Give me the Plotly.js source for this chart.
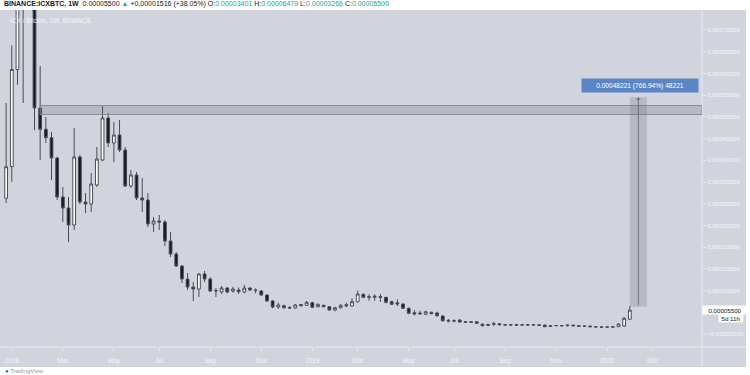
<!DOCTYPE html>
<html>
<head>
<meta charset="utf-8">
<script src="https://cdn.plot.ly/plotly-3.0.1.min.js"></script>
<style>html,body{margin:0;padding:0;background:#fff;}#chart{width:750px;height:375px;}</style>
</head>
<body>
<div id="chart"></div>
<script>
// Weekly candles ICX/BTC (Binance), first bar week of 2017-12-25
const firstWeek = '2017-12-25';
const opens = [
0.0003125,0.0003852,0.0006090,0.0007900,0.0008100,0.0007800,0.0005204,0.0004713,0.0004520,0.0004053,
0.0003155,0.0002901,0.0002510,0.0004076,0.0003040,0.0002993,0.0003431,0.0004007,0.0004974,0.0004398,
0.0004582,0.0004237,0.0003408,0.0003661,0.0003132,0.0003085,0.0002533,0.0002602,0.0002579,0.0002141,
0.0001842,0.0001566,0.0001266,0.0001082,0.0001036,0.0001382,0.0001266,0.0000990,0.0000967,0.0001059,
0.0000990,0.0001013,0.0000967,0.0001059,0.0001013,0.0000990,0.0000898,0.0000760,0.0000622,0.0000652,
0.0000610,0.0000599,0.0000679,0.0000661,
0.0000721,0.0000629,0.0000661,0.0000629,0.0000553,0.0000606,0.0000645,0.0000645,0.0000744,0.0000914,
0.0000859,0.0000845,0.0000859,0.0000845,0.0000744,0.0000721,0.0000691,0.0000592,0.0000491,0.0000484,
0.0000454,0.0000500,0.0000484,0.0000414,0.0000315,0.0000306,0.0000322,0.0000283,0.0000283,0.0000283,
0.0000226,0.0000219,0.0000223,0.0000237,0.0000214,0.0000207,0.0000214,0.0000205,0.0000214,0.0000207,
0.0000210,0.0000207,0.0000172,0.0000189,0.0000196,0.0000191,0.0000205,0.0000189,0.0000179,0.0000184,
0.0000168,0.0000163,0.0000157,0.0000166,0.0000168,0.0000184,0.00003401];
const highs = [
0.0005319,0.0006643,0.0008600,0.0008900,0.0008800,0.0008200,0.0006171,0.0004997,0.0004651,0.0004080,
0.0003385,0.0003155,0.0004743,0.0004122,0.0003247,0.0003707,0.0004306,0.0005250,0.0005089,0.0004882,
0.0004928,0.0004306,0.0003776,0.0003730,0.0003592,0.0003247,0.0002694,0.0002740,0.0002625,0.0002349,
0.0001888,0.0001589,0.0001405,0.0001197,0.0001405,0.0001451,0.0001312,0.0001059,0.0001105,0.0001082,
0.0001089,0.0001075,0.0001128,0.0001075,0.0001052,0.0001013,0.0000921,0.0000783,0.0000721,0.0000675,
0.0000645,0.0000691,0.0000691,0.0000760,
0.0000744,0.0000707,0.0000675,0.0000645,0.0000629,0.0000684,0.0000721,0.0000822,0.0000997,0.0000937,
0.0000914,0.0000914,0.0000921,0.0000859,0.0000767,0.0000799,0.0000707,0.0000615,0.0000553,0.0000537,
0.0000537,0.0000513,0.0000513,0.0000437,0.0000345,0.0000338,0.0000345,0.0000299,0.0000292,0.0000292,
0.0000246,0.0000237,0.0000283,0.0000253,0.0000230,0.0000228,0.0000221,0.0000220,0.0000220,0.0000221,
0.0000216,0.0000212,0.0000196,0.0000203,0.0000203,0.0000221,0.0000209,0.0000193,0.0000191,0.0000189,
0.0000175,0.0000168,0.0000166,0.0000170,0.0000246,0.0000385,0.00006479];
const lows = [
0.0003016,0.0003507,0.0005740,0.0005319,0.0007600,0.0004697,0.0004007,0.0004398,0.0003546,0.0003085,
0.0002579,0.0002118,0.0002395,0.0002993,0.0002786,0.0002809,0.0003385,0.0003980,0.0004306,0.0003960,
0.0004191,0.0003385,0.0003362,0.0003085,0.0002809,0.0002464,0.0002349,0.0002395,0.0002026,0.0001773,
0.0001543,0.0001174,0.0001013,0.0000760,0.0000852,0.0001197,0.0000967,0.0000852,0.0000921,0.0000937,
0.0000951,0.0000921,0.0000937,0.0000997,0.0000937,0.0000875,0.0000737,0.0000592,0.0000583,0.0000583,
0.0000576,0.0000583,0.0000629,0.0000645,
0.0000599,0.0000615,0.0000615,0.0000537,0.0000523,0.0000592,0.0000615,0.0000629,0.0000721,0.0000822,
0.0000767,0.0000767,0.0000737,0.0000707,0.0000668,0.0000645,0.0000576,0.0000454,0.0000431,0.0000437,
0.0000437,0.0000454,0.0000398,0.0000283,0.0000269,0.0000269,0.0000260,0.0000253,0.0000253,0.0000237,
0.0000177,0.0000184,0.0000184,0.0000200,0.0000196,0.0000196,0.0000198,0.0000198,0.0000198,0.0000198,
0.0000196,0.0000161,0.0000168,0.0000182,0.0000182,0.0000173,0.0000182,0.0000175,0.0000175,0.0000163,
0.0000159,0.0000152,0.0000152,0.0000156,0.0000161,0.0000168,0.00003266];
const closes = [
0.0003852,0.0006090,0.0007900,0.0008100,0.0007800,0.0005204,0.0004713,0.0004520,0.0004053,0.0003155,
0.0002901,0.0002510,0.0004076,0.0003040,0.0002993,0.0003454,0.0004030,0.0004974,0.0004398,0.0004582,
0.0004237,0.0003408,0.0003661,0.0003132,0.0003085,0.0002533,0.0002602,0.0002579,0.0002141,0.0001842,
0.0001566,0.0001266,0.0001082,0.0001036,0.0001382,0.0001266,0.0000990,0.0001002,0.0001059,0.0000967,
0.0001036,0.0000974,0.0001059,0.0001013,0.0001002,0.0000898,0.0000760,0.0000622,0.0000668,0.0000606,
0.0000599,0.0000668,0.0000656,0.0000730,
0.0000615,0.0000684,0.0000629,0.0000553,0.0000606,0.0000661,0.0000675,0.0000744,0.0000921,0.0000845,
0.0000845,0.0000868,0.0000845,0.0000730,0.0000684,0.0000691,0.0000592,0.0000477,0.0000461,0.0000468,
0.0000513,0.0000468,0.0000421,0.0000306,0.0000299,0.0000299,0.0000276,0.0000269,0.0000269,0.0000246,
0.0000191,0.0000200,0.0000242,0.0000214,0.0000207,0.0000214,0.0000205,0.0000214,0.0000207,0.0000212,
0.0000202,0.0000168,0.0000189,0.0000196,0.0000189,0.0000205,0.0000189,0.0000179,0.0000184,0.0000168,
0.0000163,0.0000157,0.0000161,0.0000161,0.0000230,0.0000362,0.00005500];

// Axis ticks
const xTickVals = ['2018-01-01','2018-03-05','2018-05-07','2018-07-02','2018-09-03','2018-11-05',
  '2019-01-07','2019-03-04','2019-05-06','2019-07-01','2019-09-02','2019-11-04','2020-01-06','2020-03-02'];
const xTickText = ['2018','Mar','May','Jul','Sep','Nov','2019','Mar','May','Jul','Sep','Nov','2020','Mar'];
const yTickVals = [0,0.0001,0.00015,0.0002,0.00025,0.0003,0.00035,0.0004,0.00045,0.0005,0.00055,0.0006,0.00065,0.0007];
const yTickText = ['\u22120.00000000','0.00010000','0.00015000','0.00020000','0.00025000','0.00030000','0.00035000',
  '0.00040000','0.00045000','0.00050000','0.00055000','0.00060000','0.00065000','0.00070000'];

// Drawings
const zoneLow = 0.0005054, zoneHigh = 0.0005261, zoneStart = '2018-02-05';
const rangeFrom = 0.00006287, rangeDelta = 0.00048221, rangePct = '766.94%';
const rangeStart = '2020-02-03', rangeEnd = '2020-02-24', rangeMid = '2020-02-13 12:00';
const lastPrice = 0.000055;

const xRange = ['2017-12-17 10:00','2020-05-02 02:00'];
const yRange = [-0.0000299, 0.000746];

const dates = opens.map((_, i) => {
  const d = new Date(Date.parse(firstWeek + 'T00:00:00Z') + i * 7 * 86400000);
  return d.toISOString().slice(0, 10);
});

const FONT = 'Liberation Sans, Arial, sans-serif';
const AXC = '#f3f4f6';
const pw = 702, ph = 337;

const trace = {
  type: 'candlestick', x: dates, open: opens, high: highs, low: lows, close: closes,
  increasing: {line: {color: '#4a4d55', width: 1}, fillcolor: '#ffffff'},
  decreasing: {line: {color: '#4a4d55', width: 1}, fillcolor: '#131722'},
  whiskerwidth: 0, hoverinfo: 'skip', showlegend: false
};

const teal = '#26a69a';
const header = '<b>BINANCE:ICXBTC, 1W</b>  0.00005500 <span style="color:' + teal + '">\u25B2</span> +0.00001516 (+38.05%) ' +
  'O:<span style="color:' + teal + '">0.00003401</span> H:<span style="color:' + teal + '">0.00006479</span> ' +
  'L:<span style="color:' + teal + '">0.00003266</span> C:<span style="color:' + teal + '">0.00005500</span>';

const layout = {
  width: 750, height: 375,
  margin: {l: 0, r: 48, t: 10, b: 28, pad: 0},
  paper_bgcolor: '#ffffff', plot_bgcolor: '#d1d4dc',
  font: {family: FONT, color: AXC},
  showlegend: false,
  xaxis: {
    type: 'date', range: xRange, rangeslider: {visible: false},
    tickmode: 'array', tickvals: xTickVals, ticktext: xTickText,
    ticks: 'outside', ticklen: 3, tickcolor: '#e9ebef', tickwidth: 1, ticklabelstandoff: 4,
    tickfont: {size: 6.5, color: AXC, family: FONT},
    showgrid: false, zeroline: false, showline: false, fixedrange: true
  },
  yaxis: {
    side: 'right', range: yRange,
    tickmode: 'array', tickvals: yTickVals, ticktext: yTickText,
    ticks: 'outside', ticklen: 3, tickcolor: '#e9ebef', tickwidth: 1,
    tickfont: {size: 6.2, color: AXC, family: FONT},
    showgrid: false, zeroline: false, showline: false, fixedrange: true
  },
  shapes: [
    {type: 'rect', xref: 'paper', yref: 'paper', x0: 0, x1: 746 / pw, y0: -20 / ph, y1: 1,
      fillcolor: '#d1d4dc', line: {width: 0}, layer: 'below'},
    {type: 'line', xref: 'paper', yref: 'paper', x0: 1, x1: 1, y0: -20 / ph, y1: 1,
      line: {color: '#e8eaee', width: 1}},
    {type: 'line', xref: 'paper', yref: 'paper', x0: 0, x1: 746 / pw, y0: 0, y1: 0,
      line: {color: '#e8eaee', width: 1}},
    {type: 'rect', xref: 'x', yref: 'y', x0: zoneStart, x1: xRange[1], y0: zoneLow, y1: zoneHigh,
      fillcolor: 'rgba(105,108,120,0.25)', line: {color: '#8c8f97', width: 1}},
    {type: 'rect', xref: 'x', yref: 'y', x0: rangeStart, x1: rangeEnd, y0: rangeFrom, y1: rangeFrom + rangeDelta,
      fillcolor: 'rgba(105,108,120,0.25)', line: {width: 0}}
  ],
  annotations: [
    {xref: 'paper', yref: 'paper', x: 2 / pw, y: (347 - 4.5) / ph, xanchor: 'left', yanchor: 'middle',
      text: header, showarrow: false, font: {size: 7, color: '#131722', family: FONT}},
    {xref: 'paper', yref: 'paper', x: 8 / pw, y: (347 - 20.7) / ph, xanchor: 'left', yanchor: 'middle',
      text: 'ICX / Bitcoin, 1W, BINANCE', showarrow: false, font: {size: 6.5, color: 'rgba(255,255,255,0.8)', family: FONT}},
    {xref: 'x', yref: 'y', x: rangeMid, y: rangeFrom + rangeDelta, ax: rangeMid, ay: rangeFrom,
      axref: 'x', ayref: 'y', text: '', showarrow: true, arrowhead: 1, arrowsize: 0.8, arrowwidth: 1,
      arrowcolor: '#70737c'},
    {xref: 'paper', yref: 'paper', x: 640 / pw, y: (347 - 85.8) / ph, xanchor: 'center', yanchor: 'middle',
      width: 116, height: 13, bgcolor: '#5b86c5', borderpad: 0,
      text: (rangeDelta).toFixed(8) + ' (' + rangePct + ') ' + Math.round(rangeDelta * 1e8),
      showarrow: false, font: {size: 6.6, color: '#ffffff', family: FONT}},
    {xref: 'paper', yref: 'y', x: 1, y: lastPrice, xanchor: 'left', yanchor: 'middle',
      width: 44, height: 8, bgcolor: '#ffffff', borderpad: 0, align: 'center',
      text: lastPrice.toFixed(8), showarrow: false, font: {size: 6.2, color: '#131722', family: FONT}},
    {xref: 'paper', yref: 'paper', x: 731 / pw, y: (347 - 318) / ph, xanchor: 'center', yanchor: 'middle',
      width: 24, height: 8, bgcolor: '#ffffff', borderpad: 0,
      text: '5d 11h', showarrow: false, font: {size: 6.2, color: '#131722', family: FONT}},
    {xref: 'paper', yref: 'paper', x: 3 / pw, y: (347 - 370.8) / ph, xanchor: 'left', yanchor: 'middle',
      text: '<span style="color:#2962ff">\u25CF</span> TradingView', showarrow: false,
      font: {size: 6, color: '#9598a1', family: FONT}}
  ]
};

Plotly.newPlot('chart', [trace], layout, {staticPlot: true, displayModeBar: false});
</script>
</body>
</html>
